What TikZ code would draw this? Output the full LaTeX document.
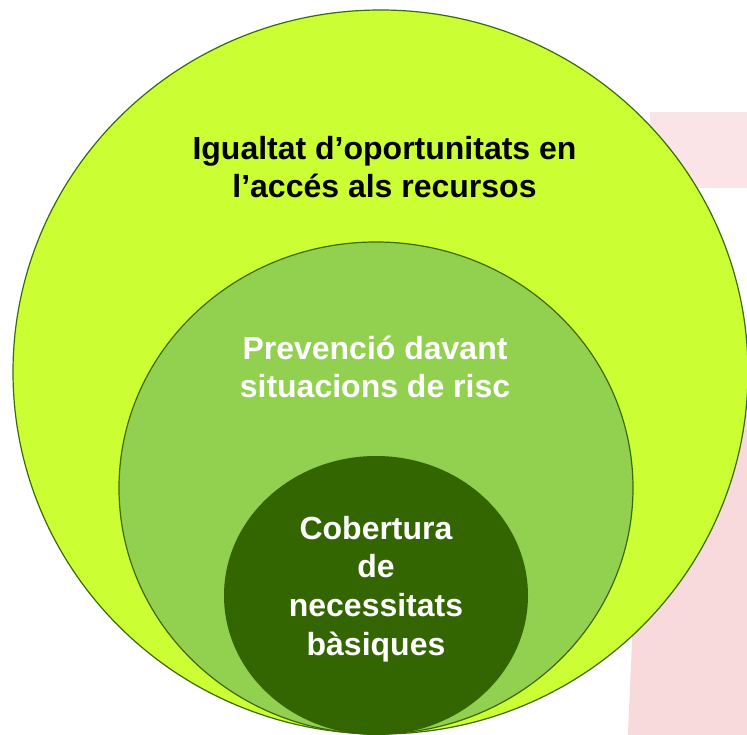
\documentclass[tikz,border=0pt]{standalone}
\usepackage{fontspec}
\setmainfont{Liberation Sans}
\usetikzlibrary{shapes.geometric}
\definecolor{outergreen}{HTML}{CCFF33}
\definecolor{midgreen}{HTML}{92D050}
\definecolor{darkgreen}{HTML}{336600}
\definecolor{edgegreen}{HTML}{3B6A0A}
\definecolor{wash}{HTML}{F8D9DC}
\begin{document}
\begin{tikzpicture}[x=0.75pt, y=-0.75pt,
        ring/.style={ellipse, draw=edgegreen, line width=0.9pt, inner sep=0pt, outer sep=0pt},
        ringtext/.style={font=\fontsize{24}{29}\selectfont\bfseries, align=center}]
        \useasboundingbox[fill=white] (0,0) rectangle (747,735);
        \fill[wash!70] (650,112) rectangle (747,188);
        \fill[wash] (640,455) -- (747,400) -- (747,735) -- (628,735) -- cycle;
        \node[ring, fill=outergreen, minimum width=551.25pt, minimum height=543pt] (outer) at (380.5,372){};
        \node[ring, fill=midgreen, minimum width=385.5pt, minimum height=369pt] (middle) at (376,488){};
        \node[ring, draw=none, fill=darkgreen, minimum width=228pt, minimum height=209.25pt] (inner) at (376,595.5){};
        \node[ringtext, text=black] (access) at (384.5,167){Igualtat d’oportunitats en\\l’accés als recursos};
        \node[ringtext, text=white] (prevent) at (375,367){Prevenció davant\\situacions de risc};
        \node[ringtext, text=white] (needs) at (376,589){Cobertura\\de\\necessitats\\bàsiques};
\end{tikzpicture}
\end{document}
